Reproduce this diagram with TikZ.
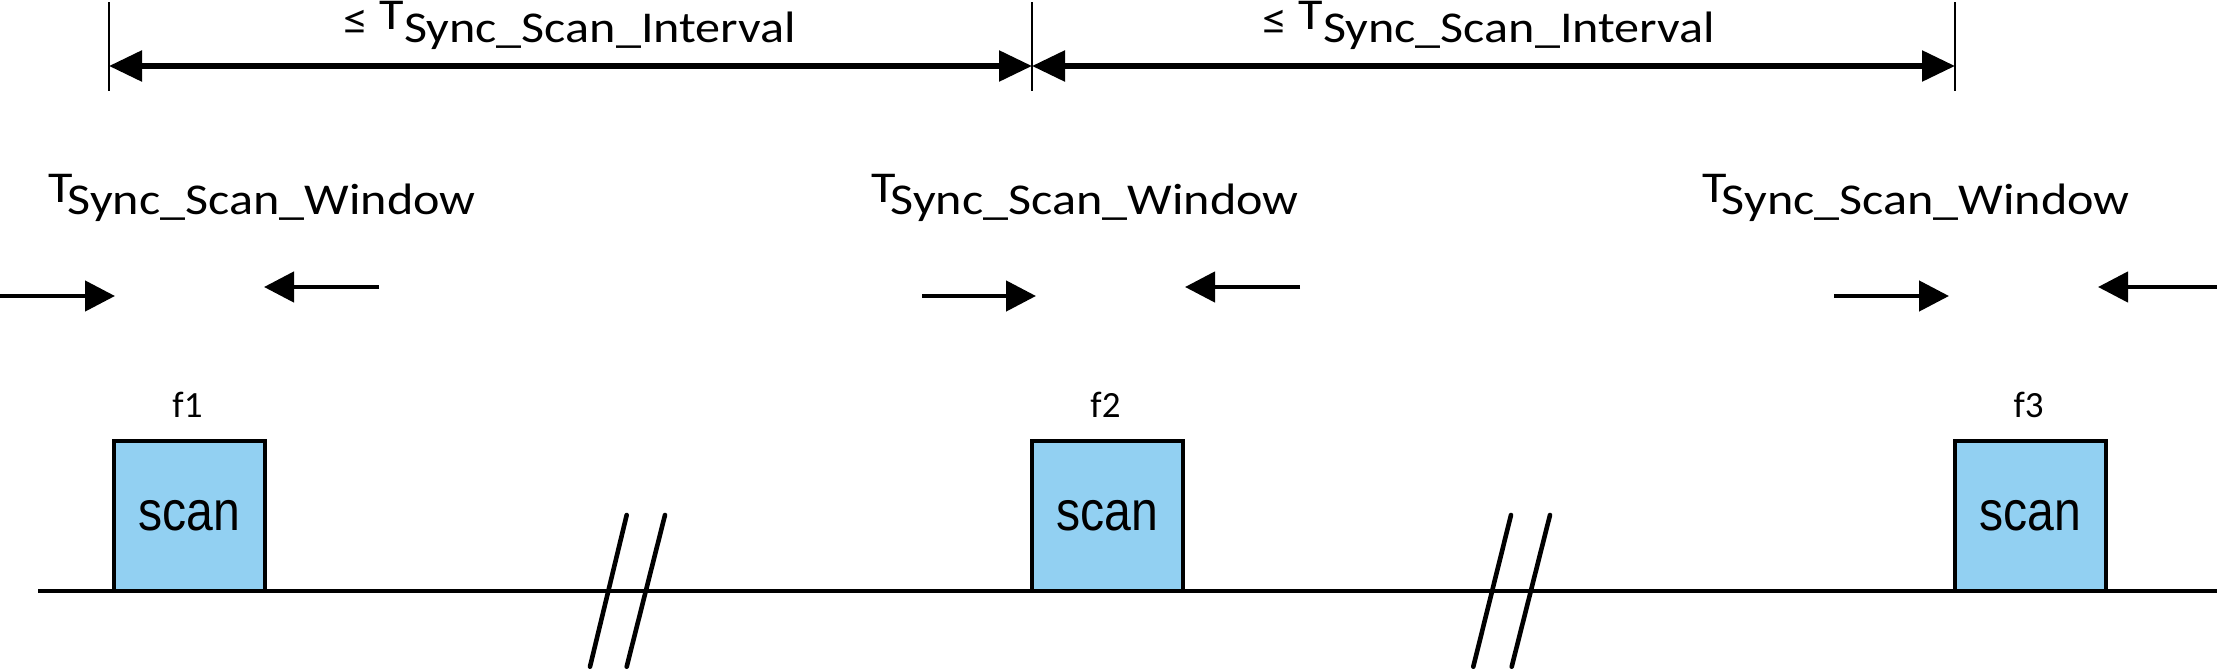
\documentclass[tikz,border=0pt]{standalone}
\usepackage{fontspec}
\setmainfont{Carlito}
\newfontfamily\tfont[FakeStretch=1.14]{Carlito}
\newfontfamily\sfont[FakeStretch=0.86]{Liberation Sans}
\usetikzlibrary{arrows.meta}
\definecolor{scanblue}{RGB}{146,208,242}
\begin{document}
\begin{tikzpicture}[x=0.5pt,y=-0.5pt,
  dimtick/.style={line width=1.4pt},
  dimarrow/.style={line width=2.8pt,{Triangle[length=16.5pt,width=15pt]}-{Triangle[length=16.5pt,width=15pt]}},
  winarrow/.style={line width=2.3pt,-{Triangle[length=15pt,width=15pt]}},
  scanbox/.style={draw,line width=2.4pt,fill=scanblue,minimum width=75.5pt,minimum height=75pt,inner sep=0pt,font=\sfont\fontsize{28}{32}\selectfont},
  baseln/.style={line width=2.4pt},
  brk/.style={line width=2.3pt,line cap=round},
  tlabel/.style={font=\tfont\fontsize{22}{26}\selectfont,inner sep=0pt,anchor=base west},
  flabel/.style={font=\fontsize{18.5}{22}\selectfont,inner sep=0pt,anchor=base}]
\useasboundingbox (0,0) rectangle (2217,669);

% dimension ticks
\coordinate (k1a) at (109,2);  \coordinate (k1b) at (109,91);
\coordinate (k2a) at (1032,2); \coordinate (k2b) at (1032,91);
\coordinate (k3a) at (1955,2); \coordinate (k3b) at (1955,91);
\draw[dimtick] (k1a) -- (k1b);
\draw[dimtick] (k2a) -- (k2b);
\draw[dimtick] (k3a) -- (k3b);

% interval arrows
\coordinate (a1) at (109,66);
\coordinate (a2) at (1032,66);
\coordinate (a3) at (1955,66);
\draw[dimarrow] (a1) -- (a2);
\draw[dimarrow] (a2) -- (a3);

\node[tlabel] (int1) at (343,29) {\raisebox{-2.5pt}{≤}\ T\raisebox{-6.6pt}{Sync\_Scan\_Interval}};
\node[tlabel] (int2) at (1262,29) {\raisebox{-2.5pt}{≤}\ T\raisebox{-6.6pt}{Sync\_Scan\_Interval}};

% window labels
\node[tlabel] (w1) at (48,202) {T\kern-2.5pt\raisebox{-6.15pt}{Sync\_Scan\_Window}};
\node[tlabel] (w2) at (871,202) {T\kern-2.5pt\raisebox{-6.15pt}{Sync\_Scan\_Window}};
\node[tlabel] (w3) at (1702,202) {T\kern-2.5pt\raisebox{-6.15pt}{Sync\_Scan\_Window}};

% window arrows
\coordinate (r1s) at (0,296);    \coordinate (r1e) at (115,296);
\coordinate (l1s) at (379,287);  \coordinate (l1e) at (264,287);
\coordinate (r2s) at (922,296);  \coordinate (r2e) at (1036,296);
\coordinate (l2s) at (1300,287); \coordinate (l2e) at (1185,287);
\coordinate (r3s) at (1834,296); \coordinate (r3e) at (1949,296);
\coordinate (l3s) at (2217,287); \coordinate (l3e) at (2098,287);
\draw[winarrow] (r1s) -- (r1e);
\draw[winarrow] (l1s) -- (l1e);
\draw[winarrow] (r2s) -- (r2e);
\draw[winarrow] (l2s) -- (l2e);
\draw[winarrow] (r3s) -- (r3e);
\draw[winarrow] (l3s) -- (l3e);

% time line
\coordinate (tl0) at (38,591);
\coordinate (tl1) at (2217,591);
\draw[baseln] (tl0) -- (tl1);

% scan boxes
\node[scanbox] (b1) at (189.5,516) {scan};
\node[scanbox] (b2) at (1107.5,516) {scan};
\node[scanbox] (b3) at (2030.5,516) {scan};

\node[flabel] (f1) at (187.5,417) {f1};
\node[flabel] (f2) at (1105.5,417) {f2};
\node[flabel] (f3) at (2028.5,417) {f3};

% break marks
\coordinate (p1a) at (626.7,515); \coordinate (p1b) at (590,666.7);
\coordinate (p2a) at (665,515);   \coordinate (p2b) at (626.7,666.7);
\coordinate (p3a) at (1511,515);  \coordinate (p3b) at (1473.3,666.7);
\coordinate (p4a) at (1550,515);  \coordinate (p4b) at (1511.7,666.7);
\draw[brk] (p1a) -- (p1b);
\draw[brk] (p2a) -- (p2b);
\draw[brk] (p3a) -- (p3b);
\draw[brk] (p4a) -- (p4b);
\end{tikzpicture}
\end{document}
